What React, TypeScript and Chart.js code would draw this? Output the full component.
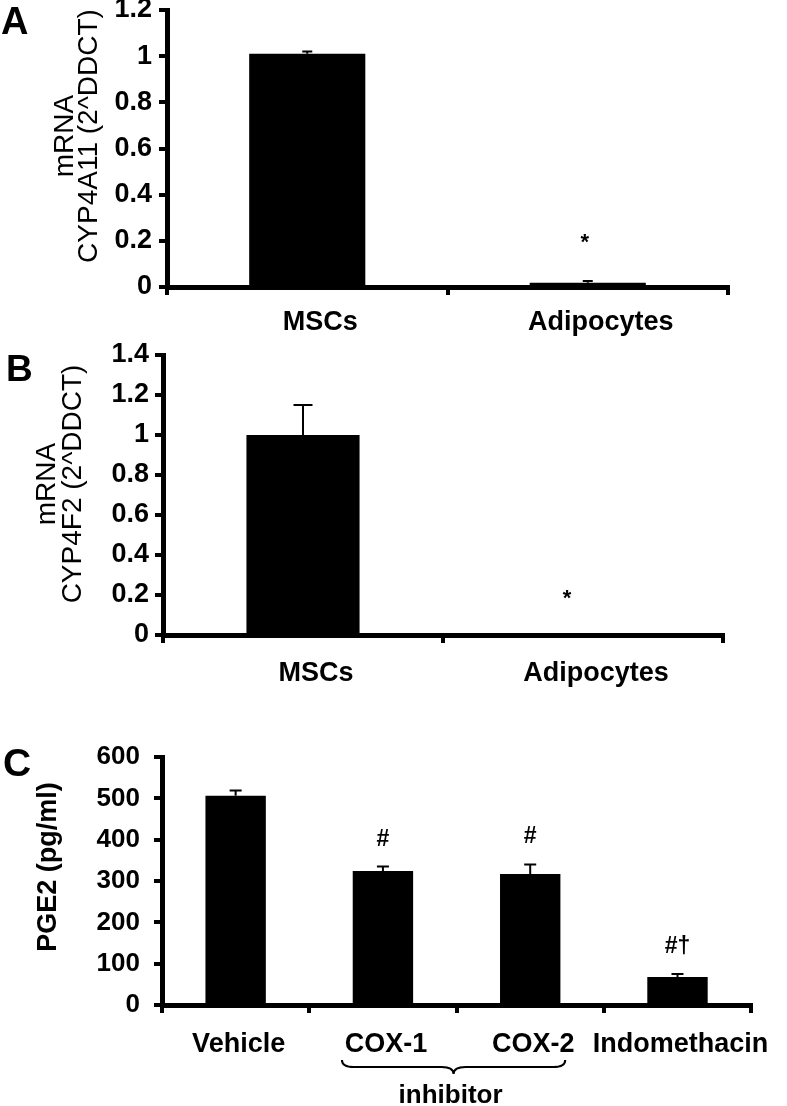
import React, { useEffect, useRef } from "react";
import { Chart, registerables } from "chart.js";

Chart.register(...registerables);

const FONT = '"Liberation Sans", Arial, Helvetica, sans-serif';

// ---------- Panel A data ----------
const categoriesA = ["MSCs", "Adipocytes"];
const valuesA = [1.01, 0.018];
const errorsA = [0.01, 0.008];
const marksA = ["", "*"];
const yTicksA = [0, 0.2, 0.4, 0.6, 0.8, 1, 1.2];
const yTitleA = ["mRNA", "CYP4A11 (2^DDCT)"];

// ---------- Panel B data ----------
const categoriesB = ["MSCs", "Adipocytes"];
const valuesB = [1.0, 0.003];
const errorsB = [0.15, 0];
const marksB = ["", "*"];
const yTicksB = [0, 0.2, 0.4, 0.6, 0.8, 1, 1.2, 1.4];
const yTitleB = ["mRNA", "CYP4F2 (2^DDCT)"];

// ---------- Panel C data ----------
const categoriesC = ["Vehicle", "COX-1", "COX-2", "Indomethacin"];
const valuesC = [506, 324, 317, 68];
const errorsC = [13, 11, 23, 7];
const marksC = ["", "#", "#", "#\u2020"];
const yTicksC = [0, 100, 200, 300, 400, 500, 600];
const yTitleC = ["PGE2 (pg/ml)"];
const groupLabelC = "inhibitor";

type PanelCfg = {
  letter: string;
  letterX: number;
  letterY: number;
  letterSize: number;
  labels: string[];
  values: number[];
  errors: number[];
  marks: string[];
  yTicks: number[];
  yTitle: string[];
  yTitleX: number[];
  yTitleY: number;
  yTitleFont: string;
  T: number;
  H: number;
  left: number;
  right: number;
  top: number;
  bottom: number;
  barPct: number;
  capW: number;
  tickSize: number;
  xFontSize: number;
  xPad: number;
  yPad: number;
  labelOffset: number;
  markFont: string;
  markGap: number;
  markDx: number;
  extra?: (chart: Chart, ctx: CanvasRenderingContext2D, cfg: PanelCfg) => void;
};

function makeOverlay(cfg: PanelCfg) {
  return {
    id: "overlay" + cfg.letter,
    afterDatasetsDraw(chart: Chart) {
      const ctx = chart.ctx;
      const meta = chart.getDatasetMeta(0);
      const ys = chart.scales.y;
      ctx.save();
      ctx.fillStyle = "#000";
      ctx.strokeStyle = "#000";
      cfg.values.forEach((v, i) => {
        const el: any = meta.data[i];
        const x = el.x;
        const e = cfg.errors[i];
        const yTop = ys.getPixelForValue(v + e);
        if (e > 0) {
          const y0 = ys.getPixelForValue(v);
          ctx.lineWidth = 2;
          ctx.beginPath();
          ctx.moveTo(x, y0);
          ctx.lineTo(x, yTop);
          ctx.moveTo(x - cfg.capW / 2, yTop);
          ctx.lineTo(x + cfg.capW / 2, yTop);
          ctx.stroke();
        }
        const m = cfg.marks[i];
        if (m) {
          ctx.font = cfg.markFont;
          ctx.textAlign = "center";
          ctx.textBaseline = "alphabetic";
          ctx.fillText(m, x + cfg.markDx, yTop - cfg.markGap);
        }
      });
      // panel letter
      ctx.font = `bold ${cfg.letterSize}px ${FONT}`;
      ctx.textAlign = "left";
      ctx.textBaseline = "alphabetic";
      ctx.fillText(cfg.letter, cfg.letterX, cfg.letterY - cfg.T);
      // y-axis title lines (rotated)
      ctx.font = cfg.yTitleFont;
      cfg.yTitle.forEach((line, i) => {
        ctx.save();
        ctx.translate(cfg.yTitleX[i], cfg.yTitleY - cfg.T);
        ctx.rotate(-Math.PI / 2);
        ctx.textAlign = "center";
        ctx.textBaseline = "middle";
        ctx.fillText(line, 0, 0);
        ctx.restore();
      });
      if (cfg.extra) cfg.extra(chart, ctx, cfg);
      ctx.restore();
    },
  };
}

function buildConfig(cfg: PanelCfg): any {
  const tickFont = { family: FONT, size: cfg.tickSize, weight: "bold" as const, lineHeight: 1 };
  const xFont = { family: FONT, size: cfg.xFontSize, weight: "bold" as const, lineHeight: 1 };
  return {
    type: "bar",
    data: {
      labels: cfg.labels,
      datasets: [
        {
          data: cfg.values,
          backgroundColor: "#000",
          borderWidth: 0,
          barPercentage: cfg.barPct,
          categoryPercentage: 1,
        },
      ],
    },
    options: {
      animation: false,
      responsive: false,
      devicePixelRatio: 1,
      layout: {
        padding: { left: 0, right: 787 - cfg.right, top: cfg.top - cfg.T, bottom: 0 },
      },
      plugins: {
        legend: { display: false },
        tooltip: { enabled: false },
        title: { display: false },
      },
      scales: {
        x: {
          type: "category",
          offset: true,
          grid: {
            display: true,
            offset: true,
            drawOnChartArea: false,
            drawTicks: true,
            tickLength: 8,
            lineWidth: 4,
            color: "#000",
          },
          border: { display: true, width: 5, color: "#000" },
          ticks: {
            color: "#000",
            font: xFont,
            padding: cfg.xPad,
            labelOffset: cfg.labelOffset,
            maxRotation: 0,
            minRotation: 0,
            autoSkip: false,
          },
          afterFit: (s: any) => {
            s.height = cfg.T + cfg.H - cfg.bottom;
          },
        },
        y: {
          type: "linear",
          min: cfg.yTicks[0],
          max: cfg.yTicks[cfg.yTicks.length - 1],
          afterBuildTicks: (s: any) => {
            s.ticks = cfg.yTicks.map((v) => ({ value: v }));
          },
          grid: {
            display: true,
            drawOnChartArea: false,
            drawTicks: true,
            tickLength: 8,
            lineWidth: 4,
            color: "#000",
          },
          border: { display: true, width: 5, color: "#000" },
          ticks: {
            color: "#000",
            font: tickFont,
            padding: cfg.yPad,
            callback: (v: any) => String(v),
          },
          afterFit: (s: any) => {
            s.width = cfg.left;
          },
        },
      },
    },
    plugins: [makeOverlay(cfg)],
  };
}

const braceExtra = (chart: Chart, ctx: CanvasRenderingContext2D, cfg: PanelCfg) => {
  const meta = chart.getDatasetMeta(0);
  const b1: any = meta.data[1];
  const b2: any = meta.data[2];
  const xL = b1.x - 41;
  const xR = b2.x + 35;
  const xm = (xL + xR) / 2;
  const yT = 1060 - cfg.T;
  const yM = 1067 - cfg.T;
  const yC = 1074 - cfg.T;
  ctx.lineWidth = 2;
  ctx.strokeStyle = "#000";
  ctx.beginPath();
  ctx.moveTo(xL, yT);
  ctx.quadraticCurveTo(xL, yM, xL + 12, yM);
  ctx.lineTo(xm - 12, yM);
  ctx.quadraticCurveTo(xm, yM, xm, yC);
  ctx.quadraticCurveTo(xm, yM, xm + 12, yM);
  ctx.lineTo(xR - 12, yM);
  ctx.quadraticCurveTo(xR, yM, xR, yT);
  ctx.stroke();
  ctx.font = `bold 26px ${FONT}`;
  ctx.textAlign = "center";
  ctx.textBaseline = "alphabetic";
  ctx.fillText(groupLabelC, xm - 3, 1103 - cfg.T);
};

const panelA: PanelCfg = {
  letter: "A",
  letterX: 1,
  letterY: 34,
  letterSize: 38,
  labels: categoriesA,
  values: valuesA,
  errors: errorsA,
  marks: marksA,
  yTicks: yTicksA,
  yTitle: yTitleA,
  yTitleX: [65, 89],
  yTitleY: 136,
  yTitleFont: `28px ${FONT}`,
  T: -20,
  H: 360,
  left: 167,
  right: 728,
  top: 10,
  bottom: 287,
  barPct: 0.414,
  capW: 10,
  tickSize: 27,
  xFontSize: 27,
  xPad: 14,
  yPad: 7,
  labelOffset: 13,
  markFont: `bold 22px ${FONT}`,
  markGap: 32,
  markDx: -3,
};

const panelB: PanelCfg = {
  letter: "B",
  letterX: 6,
  letterY: 381,
  letterSize: 37,
  labels: categoriesB,
  values: valuesB,
  errors: errorsB,
  marks: marksB,
  yTicks: yTicksB,
  yTitle: yTitleB,
  yTitleX: [47, 73],
  yTitleY: 484,
  yTitleFont: `28px ${FONT}`,
  T: 320,
  H: 380,
  left: 163,
  right: 723,
  top: 355,
  bottom: 635,
  barPct: 0.404,
  capW: 19,
  tickSize: 27,
  xFontSize: 27,
  xPad: 17,
  yPad: 6,
  labelOffset: 13,
  markFont: `bold 22px ${FONT}`,
  markGap: 29,
  markDx: -16,
};

const panelC: PanelCfg = {
  letter: "C",
  letterX: 3,
  letterY: 776,
  letterSize: 39,
  labels: categoriesC,
  values: valuesC,
  errors: errorsC,
  marks: marksC,
  yTicks: yTicksC,
  yTitle: yTitleC,
  yTitleX: [49],
  yTitleY: 867,
  yTitleFont: `bold 27px ${FONT}`,
  T: 700,
  H: 406,
  left: 162,
  right: 757,
  top: 757,
  bottom: 1005,
  barPct: 0.41,
  capW: 12,
  tickSize: 26,
  xFontSize: 27,
  xPad: 18,
  yPad: 14,
  labelOffset: 3,
  markFont: `bold 23px ${FONT}`,
  markGap: 21,
  markDx: 0,
  extra: braceExtra,
};

function Panel({ cfg }: { cfg: PanelCfg }) {
  const ref = useRef<HTMLCanvasElement>(null);
  useEffect(() => {
    if (!ref.current) return;
    const chart = new Chart(ref.current, buildConfig(cfg));
    return () => chart.destroy();
  }, [cfg]);
  return (
    <canvas
      ref={ref}
      width={787}
      height={cfg.H}
      style={{ position: "absolute", left: 0, top: cfg.T, width: 787, height: cfg.H }}
    />
  );
}

export default function App() {
  return (
    <div
      style={{
        position: "absolute",
        left: 0,
        top: 0,
        width: 787,
        height: 1106,
        overflow: "hidden",
        background: "#fff",
      }}
    >
      <Panel cfg={panelA} />
      <Panel cfg={panelB} />
      <Panel cfg={panelC} />
    </div>
  );
}
